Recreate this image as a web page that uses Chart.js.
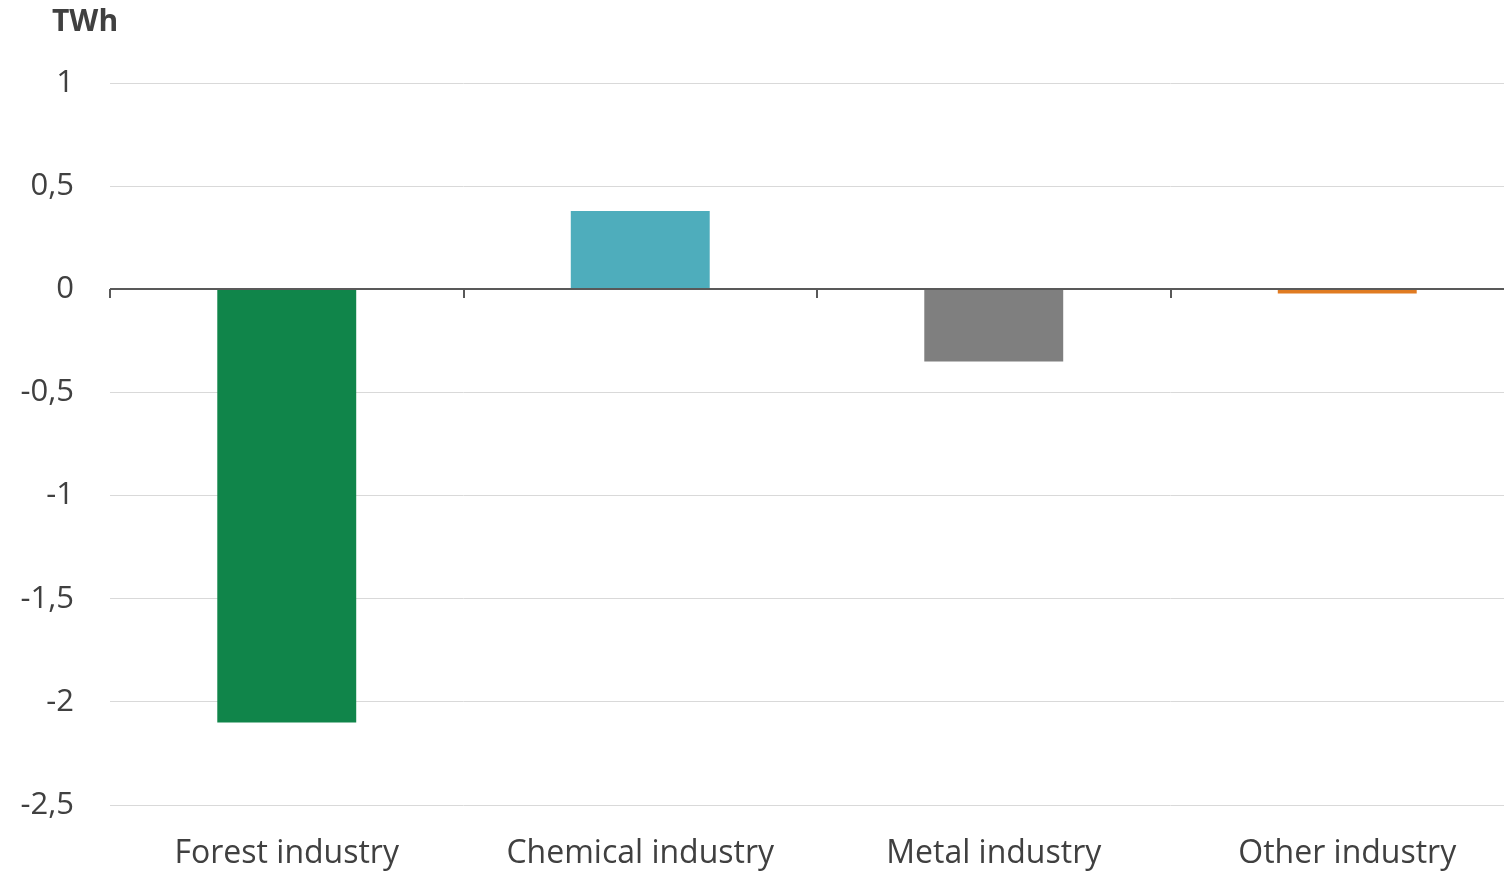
<!DOCTYPE html>
<html>
<head>
<meta charset="utf-8">
<script src="https://cdn.jsdelivr.net/npm/chart.js@4/dist/chart.umd.min.js"></script>
<style>
  html, body { margin: 0; padding: 0; background: #fff; overflow: hidden; }
  #wrap { width: 1524px; height: 872px; position: relative; }
</style>
</head>
<body>
<div id="wrap"><canvas id="chart"></canvas></div>
<script>
var categories = ["Forest industry", "Chemical industry", "Metal industry", "Other industry"]
var values = [-2.1, 0.38, -0.35, -0.02]
var barColors = ["#10854a", "#4eadbc", "#7f7f7f", "#e07b22"]
var yTicks = [-2.5, -2, -1.5, -1, -0.5, 0, 0.5, 1]
var unitLabel = "TWh"

var fontFamily = "'Open Sans', 'Noto Sans', sans-serif"

// zero line with category tick marks, plus the unit label above the axis
var axisPlugin = {
    id: "zeroAxis",
    afterDatasetsDraw: function (chart) {
        var ctx = chart.ctx
        var x = chart.scales.x
        var y = chart.scales.y
        var y0 = Math.round(y.getPixelForValue(0))
        var area = chart.chartArea
        ctx.save()
        ctx.strokeStyle = "#595959"
        ctx.lineWidth = 2
        ctx.beginPath()
        ctx.moveTo(area.left, y0)
        ctx.lineTo(area.right, y0)
        var step = x.getPixelForValue(1) - x.getPixelForValue(0)
        for (var i = 0; i <= categories.length; i++) {
            var px = Math.round(x.getPixelForValue(i) - step / 2)
            ctx.moveTo(px, y0)
            ctx.lineTo(px, y0 + 9)
        }
        ctx.stroke()

        ctx.fillStyle = "#404040"
        ctx.font = "bold 30px " + fontFamily
        ctx.textAlign = "left"
        ctx.textBaseline = "middle"
        ctx.fillText(unitLabel, area.left - 58, 22)
        ctx.restore()
    }
}

var ctx = document.getElementById("chart").getContext("2d")
var myChart = new Chart(ctx, {
    type: "bar",
    data: {
        labels: categories,
        datasets: [{
            data: values,
            backgroundColor: barColors,
            borderWidth: 0,
            barPercentage: 0.393,
            categoryPercentage: 1
        }]
    },
    options: {
        responsive: true,
        maintainAspectRatio: false,
        animation: false,
        layout: { padding: { top: 83, left: 0, right: 0, bottom: 0 } },
        plugins: {
            legend: { display: false },
            tooltip: { enabled: false }
        },
        scales: {
            x: {
                grid: { display: false },
                border: { display: false },
                ticks: {
                    color: "#404040",
                    padding: 22,
                    font: { family: fontFamily, size: 32 },
                    maxRotation: 0
                },
                afterFit: function (scale) { scale.height = 67 }
            },
            y: {
                min: -2.5,
                max: 1,
                afterBuildTicks: function (scale) {
                    scale.ticks = yTicks.map(function (v) { return { value: v } })
                },
                grid: {
                    color: "#d9d9d9",
                    lineWidth: 1,
                    drawTicks: false
                },
                border: { display: false },
                ticks: {
                    color: "#404040",
                    padding: 36,
                    font: { family: fontFamily, size: 31 },
                    callback: function (value) { return String(value).replace(".", ",") }
                },
                afterFit: function (scale) { scale.width = 110 }
            }
        }
    },
    plugins: [axisPlugin]
})
</script>
</body>
</html>
